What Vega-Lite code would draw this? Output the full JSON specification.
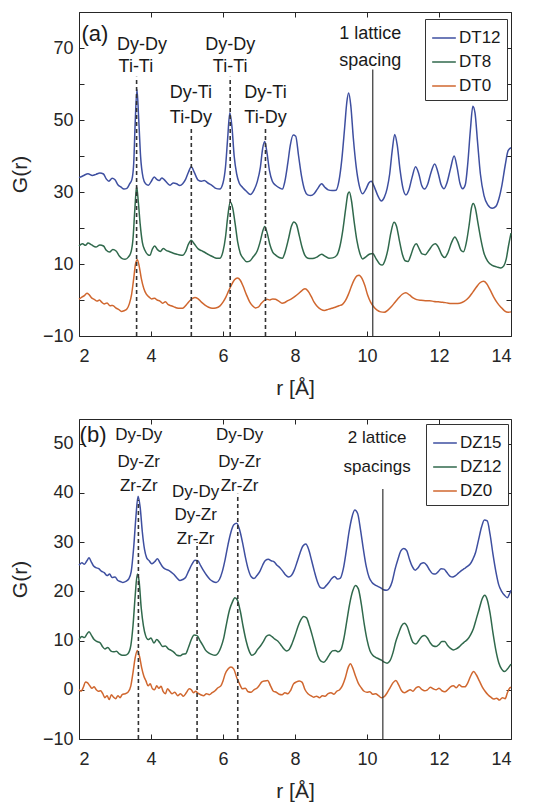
{
  "$schema": "https://vega.github.io/schema/vega-lite/v6.json",
  "padding": {"left": 8, "top": 11, "right": 5, "bottom": 5},
  "config": {
    "font": "Liberation Sans",
    "view": {"stroke": "#262626", "strokeWidth": 1},
    "axis": {"grid": false, "domain": false, "tickColor": "#262626", "tickSize": -5, "labelFontSize": 18, "labelColor": "#262626", "titleFontSize": 21, "titleFontWeight": "normal", "titleColor": "#262626", "labelFont": "Liberation Sans", "titleFont": "Liberation Sans", "labelPadding": 11, "titlePadding": 12},
    "axisX": {"labelPadding": 16, "titlePadding": 12},
    "legend": {"orient": "none", "title": null, "strokeColor": "#333333", "fillColor": "white", "padding": 6, "symbolType": "stroke", "symbolSize": 560, "symbolStrokeWidth": 1.5, "labelFontSize": 17, "labelFont": "Liberation Sans", "labelColor": "#1a1a1a", "rowPadding": 3, "labelOffset": 2}
  },
  "datasets": {
    "aLines": [
      {"s":"DT12","r":2.00,"g":34.0},{"s":"DT12","r":2.13,"g":34.6},{"s":"DT12","r":2.25,"g":35.1},{"s":"DT12","r":2.37,"g":34.6},{"s":"DT12","r":2.47,"g":34.9},{"s":"DT12","r":2.58,"g":35.3},{"s":"DT12","r":2.68,"g":35.0},{"s":"DT12","r":2.76,"g":33.6},{"s":"DT12","r":2.83,"g":33.0},{"s":"DT12","r":2.92,"g":33.8},{"s":"DT12","r":3.00,"g":33.4},{"s":"DT12","r":3.08,"g":32.0},{"s":"DT12","r":3.16,"g":31.4},{"s":"DT12","r":3.25,"g":30.8},{"s":"DT12","r":3.33,"g":31.0},{"s":"DT12","r":3.41,"g":32.3},{"s":"DT12","r":3.47,"g":33.5},{"s":"DT12","r":3.52,"g":38},{"s":"DT12","r":3.56,"g":49},{"s":"DT12","r":3.61,"g":58.5},{"s":"DT12","r":3.66,"g":50},{"s":"DT12","r":3.71,"g":40},{"s":"DT12","r":3.78,"g":34},{"s":"DT12","r":3.85,"g":32.3},{"s":"DT12","r":3.93,"g":31.9},{"s":"DT12","r":4.01,"g":33.0},{"s":"DT12","r":4.09,"g":34.2},{"s":"DT12","r":4.16,"g":33.5},{"s":"DT12","r":4.23,"g":33.2},{"s":"DT12","r":4.30,"g":33.9},{"s":"DT12","r":4.36,"g":33.5},{"s":"DT12","r":4.45,"g":32.5},{"s":"DT12","r":4.53,"g":31.9},{"s":"DT12","r":4.62,"g":32.5},{"s":"DT12","r":4.71,"g":32.3},{"s":"DT12","r":4.80,"g":31.8},{"s":"DT12","r":4.88,"g":32.3},{"s":"DT12","r":4.96,"g":33.5},{"s":"DT12","r":5.04,"g":35.5},{"s":"DT12","r":5.12,"g":37.0},{"s":"DT12","r":5.20,"g":35.5},{"s":"DT12","r":5.31,"g":33.3},{"s":"DT12","r":5.40,"g":33.0},{"s":"DT12","r":5.48,"g":33.2},{"s":"DT12","r":5.58,"g":32.5},{"s":"DT12","r":5.70,"g":31.8},{"s":"DT12","r":5.80,"g":31.0},{"s":"DT12","r":5.91,"g":30.8},{"s":"DT12","r":6.00,"g":32.5},{"s":"DT12","r":6.07,"g":37},{"s":"DT12","r":6.13,"g":45},{"s":"DT12","r":6.19,"g":52.0},{"s":"DT12","r":6.25,"g":48},{"s":"DT12","r":6.31,"g":40},{"s":"DT12","r":6.38,"g":35},{"s":"DT12","r":6.45,"g":32.5},{"s":"DT12","r":6.55,"g":31.2},{"s":"DT12","r":6.65,"g":30.2},{"s":"DT12","r":6.76,"g":29.3},{"s":"DT12","r":6.86,"g":30.5},{"s":"DT12","r":6.95,"g":32.8},{"s":"DT12","r":7.04,"g":37},{"s":"DT12","r":7.10,"g":42},{"s":"DT12","r":7.16,"g":44.0},{"s":"DT12","r":7.22,"g":41},{"s":"DT12","r":7.29,"g":36},{"s":"DT12","r":7.37,"g":33},{"s":"DT12","r":7.47,"g":31.8},{"s":"DT12","r":7.56,"g":31.2},{"s":"DT12","r":7.65,"g":30.8},{"s":"DT12","r":7.72,"g":33},{"s":"DT12","r":7.80,"g":38},{"s":"DT12","r":7.87,"g":43},{"s":"DT12","r":7.95,"g":45.8},{"s":"DT12","r":8.02,"g":45.5},{"s":"DT12","r":8.10,"g":40},{"s":"DT12","r":8.18,"g":34.5},{"s":"DT12","r":8.27,"g":30.5},{"s":"DT12","r":8.35,"g":29.2},{"s":"DT12","r":8.44,"g":29.0},{"s":"DT12","r":8.53,"g":29.5},{"s":"DT12","r":8.62,"g":30.8},{"s":"DT12","r":8.74,"g":32.3},{"s":"DT12","r":8.83,"g":31.3},{"s":"DT12","r":8.92,"g":30.6},{"s":"DT12","r":9.03,"g":30.4},{"s":"DT12","r":9.14,"g":30.5},{"s":"DT12","r":9.22,"g":33},{"s":"DT12","r":9.30,"g":39},{"s":"DT12","r":9.38,"g":48},{"s":"DT12","r":9.44,"g":55},{"s":"DT12","r":9.49,"g":57.5},{"s":"DT12","r":9.55,"g":54},{"s":"DT12","r":9.62,"g":45},{"s":"DT12","r":9.70,"g":37},{"s":"DT12","r":9.78,"g":32},{"s":"DT12","r":9.88,"g":29.5},{"s":"DT12","r":9.97,"g":30.8},{"s":"DT12","r":10.05,"g":32.5},{"s":"DT12","r":10.12,"g":33.0},{"s":"DT12","r":10.20,"g":31.5},{"s":"DT12","r":10.30,"g":29},{"s":"DT12","r":10.40,"g":27.5},{"s":"DT12","r":10.48,"g":28.5},{"s":"DT12","r":10.56,"g":31},{"s":"DT12","r":10.63,"g":35},{"s":"DT12","r":10.70,"g":41.5},{"s":"DT12","r":10.77,"g":46},{"s":"DT12","r":10.84,"g":43},{"s":"DT12","r":10.92,"g":36},{"s":"DT12","r":11.00,"g":31},{"s":"DT12","r":11.08,"g":29.2},{"s":"DT12","r":11.16,"g":30.5},{"s":"DT12","r":11.25,"g":34},{"s":"DT12","r":11.35,"g":37.0},{"s":"DT12","r":11.44,"g":35},{"s":"DT12","r":11.52,"g":31.8},{"s":"DT12","r":11.60,"g":30.8},{"s":"DT12","r":11.68,"g":32},{"s":"DT12","r":11.78,"g":35.5},{"s":"DT12","r":11.88,"g":37.8},{"s":"DT12","r":11.97,"g":35.5},{"s":"DT12","r":12.06,"g":32},{"s":"DT12","r":12.14,"g":30.9},{"s":"DT12","r":12.22,"g":32.5},{"s":"DT12","r":12.32,"g":36.5},{"s":"DT12","r":12.42,"g":40.0},{"s":"DT12","r":12.50,"g":37},{"s":"DT12","r":12.58,"g":32.5},{"s":"DT12","r":12.66,"g":30.9},{"s":"DT12","r":12.73,"g":32},{"s":"DT12","r":12.80,"g":38},{"s":"DT12","r":12.87,"g":47},{"s":"DT12","r":12.94,"g":53.8},{"s":"DT12","r":13.00,"g":52},{"s":"DT12","r":13.07,"g":44},{"s":"DT12","r":13.15,"g":35},{"s":"DT12","r":13.25,"g":29},{"s":"DT12","r":13.35,"g":26.5},{"s":"DT12","r":13.48,"g":25.5},{"s":"DT12","r":13.58,"g":26},{"s":"DT12","r":13.66,"g":28},{"s":"DT12","r":13.75,"g":32},{"s":"DT12","r":13.84,"g":37.5},{"s":"DT12","r":13.92,"g":41.5},{"s":"DT12","r":14.00,"g":42.3},
      {"s":"DT8","r":2.00,"g":15.0},{"s":"DT8","r":2.10,"g":15.6},{"s":"DT8","r":2.18,"g":15.2},{"s":"DT8","r":2.25,"g":15.8},{"s":"DT8","r":2.35,"g":15.3},{"s":"DT8","r":2.47,"g":14.7},{"s":"DT8","r":2.58,"g":15.3},{"s":"DT8","r":2.68,"g":15.0},{"s":"DT8","r":2.76,"g":13.8},{"s":"DT8","r":2.85,"g":13.3},{"s":"DT8","r":2.94,"g":14.0},{"s":"DT8","r":3.03,"g":13.6},{"s":"DT8","r":3.12,"g":12.2},{"s":"DT8","r":3.20,"g":11.5},{"s":"DT8","r":3.28,"g":11.3},{"s":"DT8","r":3.37,"g":11.9},{"s":"DT8","r":3.45,"g":13.5},{"s":"DT8","r":3.50,"g":17},{"s":"DT8","r":3.55,"g":25},{"s":"DT8","r":3.60,"g":31.5},{"s":"DT8","r":3.65,"g":27},{"s":"DT8","r":3.70,"g":21},{"s":"DT8","r":3.76,"g":16},{"s":"DT8","r":3.83,"g":13.8},{"s":"DT8","r":3.91,"g":12.6},{"s":"DT8","r":3.97,"g":12.4},{"s":"DT8","r":4.04,"g":14.2},{"s":"DT8","r":4.10,"g":15.0},{"s":"DT8","r":4.18,"g":14.0},{"s":"DT8","r":4.26,"g":13.5},{"s":"DT8","r":4.34,"g":14.3},{"s":"DT8","r":4.42,"g":13.8},{"s":"DT8","r":4.52,"g":13.4},{"s":"DT8","r":4.62,"g":13.0},{"s":"DT8","r":4.72,"g":12.7},{"s":"DT8","r":4.80,"g":12.5},{"s":"DT8","r":4.88,"g":12.4},{"s":"DT8","r":4.96,"g":13.4},{"s":"DT8","r":5.04,"g":15.5},{"s":"DT8","r":5.12,"g":16.6},{"s":"DT8","r":5.20,"g":15.6},{"s":"DT8","r":5.31,"g":14.2},{"s":"DT8","r":5.40,"g":13.7},{"s":"DT8","r":5.50,"g":13.2},{"s":"DT8","r":5.60,"g":12.6},{"s":"DT8","r":5.72,"g":12.0},{"s":"DT8","r":5.82,"g":11.6},{"s":"DT8","r":5.91,"g":11.6},{"s":"DT8","r":6.00,"g":13.5},{"s":"DT8","r":6.07,"g":17.5},{"s":"DT8","r":6.13,"g":23},{"s":"DT8","r":6.20,"g":27.2},{"s":"DT8","r":6.27,"g":25.5},{"s":"DT8","r":6.34,"g":21},{"s":"DT8","r":6.41,"g":16},{"s":"DT8","r":6.48,"g":13},{"s":"DT8","r":6.57,"g":11.5},{"s":"DT8","r":6.66,"g":10.6},{"s":"DT8","r":6.74,"g":10.8},{"s":"DT8","r":6.84,"g":12},{"s":"DT8","r":6.95,"g":13.6},{"s":"DT8","r":7.04,"g":16.5},{"s":"DT8","r":7.10,"g":19},{"s":"DT8","r":7.16,"g":20.4},{"s":"DT8","r":7.23,"g":18.5},{"s":"DT8","r":7.30,"g":15.5},{"s":"DT8","r":7.38,"g":13.3},{"s":"DT8","r":7.47,"g":12.4},{"s":"DT8","r":7.56,"g":11.8},{"s":"DT8","r":7.65,"g":11.6},{"s":"DT8","r":7.73,"g":13.5},{"s":"DT8","r":7.82,"g":17},{"s":"DT8","r":7.90,"g":20.5},{"s":"DT8","r":7.97,"g":21.7},{"s":"DT8","r":8.04,"g":21},{"s":"DT8","r":8.12,"g":17.8},{"s":"DT8","r":8.20,"g":14.5},{"s":"DT8","r":8.28,"g":12.3},{"s":"DT8","r":8.36,"g":11.6},{"s":"DT8","r":8.45,"g":11.5},{"s":"DT8","r":8.53,"g":11.6},{"s":"DT8","r":8.62,"g":12},{"s":"DT8","r":8.74,"g":12.7},{"s":"DT8","r":8.83,"g":12.2},{"s":"DT8","r":8.94,"g":11.6},{"s":"DT8","r":9.05,"g":11.7},{"s":"DT8","r":9.16,"g":12.4},{"s":"DT8","r":9.25,"g":15},{"s":"DT8","r":9.33,"g":19.5},{"s":"DT8","r":9.41,"g":25.5},{"s":"DT8","r":9.47,"g":29.5},{"s":"DT8","r":9.51,"g":30.0},{"s":"DT8","r":9.57,"g":27.5},{"s":"DT8","r":9.64,"g":22},{"s":"DT8","r":9.72,"g":16.5},{"s":"DT8","r":9.80,"g":13},{"s":"DT8","r":9.88,"g":11.4},{"s":"DT8","r":9.97,"g":12.0},{"s":"DT8","r":10.08,"g":12.8},{"s":"DT8","r":10.16,"g":12.9},{"s":"DT8","r":10.25,"g":11.5},{"s":"DT8","r":10.35,"g":10},{"s":"DT8","r":10.42,"g":9.7},{"s":"DT8","r":10.50,"g":11},{"s":"DT8","r":10.58,"g":14},{"s":"DT8","r":10.66,"g":18.5},{"s":"DT8","r":10.75,"g":21.6},{"s":"DT8","r":10.82,"g":20.5},{"s":"DT8","r":10.90,"g":16.5},{"s":"DT8","r":10.98,"g":12.8},{"s":"DT8","r":11.06,"g":10.9},{"s":"DT8","r":11.14,"g":10.7},{"s":"DT8","r":11.22,"g":12.5},{"s":"DT8","r":11.30,"g":14.8},{"s":"DT8","r":11.37,"g":15.6},{"s":"DT8","r":11.45,"g":14.2},{"s":"DT8","r":11.53,"g":12.8},{"s":"DT8","r":11.62,"g":12.6},{"s":"DT8","r":11.72,"g":13.8},{"s":"DT8","r":11.82,"g":15.2},{"s":"DT8","r":11.90,"g":15.6},{"s":"DT8","r":11.99,"g":14.5},{"s":"DT8","r":12.08,"g":12.5},{"s":"DT8","r":12.16,"g":11.8},{"s":"DT8","r":12.25,"g":13.2},{"s":"DT8","r":12.35,"g":16},{"s":"DT8","r":12.44,"g":17.5},{"s":"DT8","r":12.52,"g":16.2},{"s":"DT8","r":12.61,"g":13.8},{"s":"DT8","r":12.68,"g":13.4},{"s":"DT8","r":12.76,"g":16},{"s":"DT8","r":12.84,"g":21},{"s":"DT8","r":12.90,"g":25.5},{"s":"DT8","r":12.95,"g":26.8},{"s":"DT8","r":13.01,"g":25.5},{"s":"DT8","r":13.08,"g":21.5},{"s":"DT8","r":13.16,"g":17},{"s":"DT8","r":13.25,"g":13},{"s":"DT8","r":13.35,"g":10.8},{"s":"DT8","r":13.48,"g":9.6},{"s":"DT8","r":13.60,"g":9.2},{"s":"DT8","r":13.72,"g":8.9},{"s":"DT8","r":13.80,"g":9.5},{"s":"DT8","r":13.87,"g":11.5},{"s":"DT8","r":13.93,"g":15},{"s":"DT8","r":14.00,"g":18.6},
      {"s":"DT0","r":2.00,"g":0.2},{"s":"DT0","r":2.08,"g":0.8},{"s":"DT0","r":2.15,"g":1.2},{"s":"DT0","r":2.22,"g":1.9},{"s":"DT0","r":2.28,"g":1.5},{"s":"DT0","r":2.35,"g":0.6},{"s":"DT0","r":2.42,"g":0.2},{"s":"DT0","r":2.50,"g":-0.3},{"s":"DT0","r":2.57,"g":0.0},{"s":"DT0","r":2.63,"g":-0.6},{"s":"DT0","r":2.70,"g":-1.1},{"s":"DT0","r":2.78,"g":-0.8},{"s":"DT0","r":2.86,"g":-1.6},{"s":"DT0","r":2.94,"g":-1.5},{"s":"DT0","r":3.02,"g":-2.2},{"s":"DT0","r":3.10,"g":-2.6},{"s":"DT0","r":3.18,"g":-3.2},{"s":"DT0","r":3.25,"g":-3.0},{"s":"DT0","r":3.33,"g":-2.5},{"s":"DT0","r":3.40,"g":-1.0},{"s":"DT0","r":3.46,"g":1.5},{"s":"DT0","r":3.52,"g":6},{"s":"DT0","r":3.57,"g":10},{"s":"DT0","r":3.62,"g":11.2},{"s":"DT0","r":3.67,"g":9.5},{"s":"DT0","r":3.73,"g":6},{"s":"DT0","r":3.80,"g":3.2},{"s":"DT0","r":3.87,"g":1.6},{"s":"DT0","r":3.95,"g":0.8},{"s":"DT0","r":4.02,"g":0.3},{"s":"DT0","r":4.10,"g":0.5},{"s":"DT0","r":4.17,"g":0.0},{"s":"DT0","r":4.25,"g":-0.3},{"s":"DT0","r":4.32,"g":-0.9},{"s":"DT0","r":4.40,"g":-0.5},{"s":"DT0","r":4.48,"g":-1.3},{"s":"DT0","r":4.56,"g":-1.6},{"s":"DT0","r":4.64,"g":-1.9},{"s":"DT0","r":4.72,"g":-2.2},{"s":"DT0","r":4.80,"g":-2.3},{"s":"DT0","r":4.88,"g":-2.3},{"s":"DT0","r":4.96,"g":-1.6},{"s":"DT0","r":5.04,"g":-0.6},{"s":"DT0","r":5.12,"g":0.2},{"s":"DT0","r":5.22,"g":0.7},{"s":"DT0","r":5.30,"g":0.4},{"s":"DT0","r":5.40,"g":-0.6},{"s":"DT0","r":5.50,"g":-1.4},{"s":"DT0","r":5.60,"g":-2.0},{"s":"DT0","r":5.70,"g":-2.3},{"s":"DT0","r":5.80,"g":-2.2},{"s":"DT0","r":5.91,"g":-1.7},{"s":"DT0","r":6.00,"g":-0.6},{"s":"DT0","r":6.08,"g":0.8},{"s":"DT0","r":6.16,"g":2.6},{"s":"DT0","r":6.25,"g":4.5},{"s":"DT0","r":6.32,"g":5.6},{"s":"DT0","r":6.40,"g":6.1},{"s":"DT0","r":6.48,"g":5.5},{"s":"DT0","r":6.56,"g":3.8},{"s":"DT0","r":6.65,"g":1.5},{"s":"DT0","r":6.74,"g":-0.5},{"s":"DT0","r":6.82,"g":-1.6},{"s":"DT0","r":6.90,"g":-2.2},{"s":"DT0","r":6.98,"g":-2.0},{"s":"DT0","r":7.06,"g":-1.0},{"s":"DT0","r":7.14,"g":-0.2},{"s":"DT0","r":7.22,"g":0.2},{"s":"DT0","r":7.30,"g":0.0},{"s":"DT0","r":7.38,"g":0.3},{"s":"DT0","r":7.46,"g":0.2},{"s":"DT0","r":7.55,"g":-0.3},{"s":"DT0","r":7.64,"g":-0.9},{"s":"DT0","r":7.72,"g":-0.7},{"s":"DT0","r":7.80,"g":-0.2},{"s":"DT0","r":7.90,"g":0.3},{"s":"DT0","r":8.00,"g":1.0},{"s":"DT0","r":8.10,"g":1.8},{"s":"DT0","r":8.20,"g":2.7},{"s":"DT0","r":8.28,"g":3.1},{"s":"DT0","r":8.36,"g":2.5},{"s":"DT0","r":8.45,"g":1.0},{"s":"DT0","r":8.53,"g":-0.6},{"s":"DT0","r":8.62,"g":-1.8},{"s":"DT0","r":8.72,"g":-2.6},{"s":"DT0","r":8.82,"g":-2.9},{"s":"DT0","r":8.92,"g":-2.6},{"s":"DT0","r":9.02,"g":-2.3},{"s":"DT0","r":9.12,"g":-2.0},{"s":"DT0","r":9.22,"g":-1.6},{"s":"DT0","r":9.32,"g":-1.2},{"s":"DT0","r":9.40,"g":-0.2},{"s":"DT0","r":9.48,"g":1.5},{"s":"DT0","r":9.56,"g":3.6},{"s":"DT0","r":9.64,"g":5.5},{"s":"DT0","r":9.72,"g":6.7},{"s":"DT0","r":9.78,"g":6.9},{"s":"DT0","r":9.86,"g":6.0},{"s":"DT0","r":9.94,"g":4.0},{"s":"DT0","r":10.02,"g":1.3},{"s":"DT0","r":10.10,"g":-0.6},{"s":"DT0","r":10.18,"g":-1.8},{"s":"DT0","r":10.28,"g":-2.8},{"s":"DT0","r":10.38,"g":-3.3},{"s":"DT0","r":10.48,"g":-3.4},{"s":"DT0","r":10.58,"g":-2.8},{"s":"DT0","r":10.68,"g":-1.8},{"s":"DT0","r":10.78,"g":-0.6},{"s":"DT0","r":10.88,"g":0.6},{"s":"DT0","r":10.98,"g":1.6},{"s":"DT0","r":11.08,"g":2.0},{"s":"DT0","r":11.18,"g":1.4},{"s":"DT0","r":11.28,"g":0.6},{"s":"DT0","r":11.38,"g":0.1},{"s":"DT0","r":11.50,"g":-0.1},{"s":"DT0","r":11.62,"g":-0.2},{"s":"DT0","r":11.74,"g":-0.2},{"s":"DT0","r":11.86,"g":-0.4},{"s":"DT0","r":11.98,"g":-0.5},{"s":"DT0","r":12.10,"g":-0.6},{"s":"DT0","r":12.22,"g":-0.8},{"s":"DT0","r":12.34,"g":-1.0},{"s":"DT0","r":12.46,"g":-1.0},{"s":"DT0","r":12.58,"g":-0.9},{"s":"DT0","r":12.70,"g":-0.4},{"s":"DT0","r":12.82,"g":0.6},{"s":"DT0","r":12.94,"g":2.2},{"s":"DT0","r":13.04,"g":3.6},{"s":"DT0","r":13.14,"g":4.8},{"s":"DT0","r":13.24,"g":5.2},{"s":"DT0","r":13.32,"g":4.6},{"s":"DT0","r":13.42,"g":2.8},{"s":"DT0","r":13.52,"g":0.8},{"s":"DT0","r":13.62,"g":-0.8},{"s":"DT0","r":13.72,"g":-2.0},{"s":"DT0","r":13.82,"g":-3.0},{"s":"DT0","r":13.92,"g":-3.4},{"s":"DT0","r":14.00,"g":-3.3}
    ],
    "bLines": [
      {"s":"DZ15","r":2.00,"g":25.3},{"s":"DZ15","r":2.08,"g":25.8},{"s":"DZ15","r":2.15,"g":25.5},{"s":"DZ15","r":2.22,"g":26.2},{"s":"DZ15","r":2.28,"g":26.8},{"s":"DZ15","r":2.34,"g":26.0},{"s":"DZ15","r":2.40,"g":25.2},{"s":"DZ15","r":2.47,"g":24.8},{"s":"DZ15","r":2.55,"g":24.6},{"s":"DZ15","r":2.62,"g":24.1},{"s":"DZ15","r":2.70,"g":23.8},{"s":"DZ15","r":2.78,"g":23.2},{"s":"DZ15","r":2.85,"g":23.5},{"s":"DZ15","r":2.92,"g":22.8},{"s":"DZ15","r":3.00,"g":22.9},{"s":"DZ15","r":3.08,"g":22.2},{"s":"DZ15","r":3.15,"g":22.0},{"s":"DZ15","r":3.22,"g":21.8},{"s":"DZ15","r":3.30,"g":22.0},{"s":"DZ15","r":3.38,"g":22.5},{"s":"DZ15","r":3.45,"g":24},{"s":"DZ15","r":3.52,"g":29},{"s":"DZ15","r":3.58,"g":35},{"s":"DZ15","r":3.64,"g":39.3},{"s":"DZ15","r":3.70,"g":37},{"s":"DZ15","r":3.76,"g":32},{"s":"DZ15","r":3.82,"g":28.5},{"s":"DZ15","r":3.88,"g":26.8},{"s":"DZ15","r":3.95,"g":26.2},{"s":"DZ15","r":4.02,"g":25.6},{"s":"DZ15","r":4.10,"g":26.0},{"s":"DZ15","r":4.18,"g":26.6},{"s":"DZ15","r":4.25,"g":25.8},{"s":"DZ15","r":4.32,"g":25.0},{"s":"DZ15","r":4.40,"g":24.5},{"s":"DZ15","r":4.48,"g":24.3},{"s":"DZ15","r":4.56,"g":23.9},{"s":"DZ15","r":4.64,"g":23.4},{"s":"DZ15","r":4.72,"g":22.7},{"s":"DZ15","r":4.80,"g":22.2},{"s":"DZ15","r":4.88,"g":22.4},{"s":"DZ15","r":4.96,"g":22.8},{"s":"DZ15","r":5.05,"g":24.2},{"s":"DZ15","r":5.14,"g":25.5},{"s":"DZ15","r":5.22,"g":26.3},{"s":"DZ15","r":5.30,"g":26.2},{"s":"DZ15","r":5.38,"g":25.2},{"s":"DZ15","r":5.46,"g":24.2},{"s":"DZ15","r":5.55,"g":23.2},{"s":"DZ15","r":5.64,"g":22.4},{"s":"DZ15","r":5.72,"g":22.0},{"s":"DZ15","r":5.81,"g":21.8},{"s":"DZ15","r":5.90,"g":22.4},{"s":"DZ15","r":5.98,"g":24},{"s":"DZ15","r":6.06,"g":26.5},{"s":"DZ15","r":6.14,"g":29.5},{"s":"DZ15","r":6.22,"g":32},{"s":"DZ15","r":6.30,"g":33.5},{"s":"DZ15","r":6.38,"g":33.8},{"s":"DZ15","r":6.46,"g":32.5},{"s":"DZ15","r":6.54,"g":30},{"s":"DZ15","r":6.62,"g":27},{"s":"DZ15","r":6.70,"g":24.5},{"s":"DZ15","r":6.78,"g":23.0},{"s":"DZ15","r":6.86,"g":22.6},{"s":"DZ15","r":6.94,"g":23.2},{"s":"DZ15","r":7.02,"g":24},{"s":"DZ15","r":7.10,"g":25.3},{"s":"DZ15","r":7.18,"g":26.3},{"s":"DZ15","r":7.26,"g":26.5},{"s":"DZ15","r":7.34,"g":26.2},{"s":"DZ15","r":7.42,"g":26.0},{"s":"DZ15","r":7.50,"g":25.3},{"s":"DZ15","r":7.58,"g":24.8},{"s":"DZ15","r":7.66,"g":24.1},{"s":"DZ15","r":7.74,"g":23.3},{"s":"DZ15","r":7.82,"g":22.9},{"s":"DZ15","r":7.90,"g":23.2},{"s":"DZ15","r":7.98,"g":24.3},{"s":"DZ15","r":8.06,"g":26},{"s":"DZ15","r":8.14,"g":27.8},{"s":"DZ15","r":8.22,"g":29.2},{"s":"DZ15","r":8.30,"g":29.6},{"s":"DZ15","r":8.38,"g":28.5},{"s":"DZ15","r":8.46,"g":26.3},{"s":"DZ15","r":8.54,"g":24},{"s":"DZ15","r":8.62,"g":22.0},{"s":"DZ15","r":8.70,"g":20.8},{"s":"DZ15","r":8.78,"g":20.6},{"s":"DZ15","r":8.86,"g":21.1},{"s":"DZ15","r":8.94,"g":21.8},{"s":"DZ15","r":9.02,"g":22.6},{"s":"DZ15","r":9.10,"g":23.0},{"s":"DZ15","r":9.18,"g":22.5},{"s":"DZ15","r":9.26,"g":22.7},{"s":"DZ15","r":9.34,"g":24.5},{"s":"DZ15","r":9.42,"g":28},{"s":"DZ15","r":9.50,"g":32},{"s":"DZ15","r":9.58,"g":35},{"s":"DZ15","r":9.66,"g":36.5},{"s":"DZ15","r":9.74,"g":35.8},{"s":"DZ15","r":9.82,"g":32.5},{"s":"DZ15","r":9.90,"g":28.5},{"s":"DZ15","r":9.98,"g":25},{"s":"DZ15","r":10.06,"g":22.8},{"s":"DZ15","r":10.14,"g":21.8},{"s":"DZ15","r":10.22,"g":21.3},{"s":"DZ15","r":10.30,"g":21.0},{"s":"DZ15","r":10.38,"g":20.7},{"s":"DZ15","r":10.46,"g":20.3},{"s":"DZ15","r":10.54,"g":20.2},{"s":"DZ15","r":10.62,"g":20.6},{"s":"DZ15","r":10.70,"g":22},{"s":"DZ15","r":10.78,"g":24.5},{"s":"DZ15","r":10.86,"g":26.5},{"s":"DZ15","r":10.94,"g":28.2},{"s":"DZ15","r":11.02,"g":28.7},{"s":"DZ15","r":11.10,"g":28.3},{"s":"DZ15","r":11.18,"g":26.5},{"s":"DZ15","r":11.26,"g":25.0},{"s":"DZ15","r":11.34,"g":24.3},{"s":"DZ15","r":11.42,"g":24.8},{"s":"DZ15","r":11.50,"g":25.6},{"s":"DZ15","r":11.58,"g":25.8},{"s":"DZ15","r":11.66,"g":25.3},{"s":"DZ15","r":11.74,"g":24.3},{"s":"DZ15","r":11.82,"g":23.6},{"s":"DZ15","r":11.90,"g":23.5},{"s":"DZ15","r":11.98,"g":24.0},{"s":"DZ15","r":12.06,"g":24.6},{"s":"DZ15","r":12.14,"g":24.5},{"s":"DZ15","r":12.22,"g":23.8},{"s":"DZ15","r":12.30,"g":23.1},{"s":"DZ15","r":12.38,"g":22.9},{"s":"DZ15","r":12.46,"g":23.2},{"s":"DZ15","r":12.54,"g":23.7},{"s":"DZ15","r":12.62,"g":24.2},{"s":"DZ15","r":12.70,"g":24.6},{"s":"DZ15","r":12.78,"g":25.0},{"s":"DZ15","r":12.86,"g":25.5},{"s":"DZ15","r":12.94,"g":26.5},{"s":"DZ15","r":13.02,"g":28},{"s":"DZ15","r":13.10,"g":30.5},{"s":"DZ15","r":13.18,"g":33},{"s":"DZ15","r":13.26,"g":34.5},{"s":"DZ15","r":13.34,"g":34.3},{"s":"DZ15","r":13.42,"g":31.5},{"s":"DZ15","r":13.50,"g":27.5},{"s":"DZ15","r":13.58,"g":24},{"s":"DZ15","r":13.66,"g":21.3},{"s":"DZ15","r":13.74,"g":20.0},{"s":"DZ15","r":13.82,"g":19.2},{"s":"DZ15","r":13.90,"g":18.7},{"s":"DZ15","r":13.96,"g":19.5},{"s":"DZ15","r":14.00,"g":20.2},
      {"s":"DZ12","r":2.00,"g":10.2},{"s":"DZ12","r":2.08,"g":10.8},{"s":"DZ12","r":2.15,"g":10.6},{"s":"DZ12","r":2.22,"g":11.3},{"s":"DZ12","r":2.28,"g":11.8},{"s":"DZ12","r":2.35,"g":11.0},{"s":"DZ12","r":2.42,"g":10.2},{"s":"DZ12","r":2.50,"g":9.8},{"s":"DZ12","r":2.58,"g":9.6},{"s":"DZ12","r":2.65,"g":8.8},{"s":"DZ12","r":2.72,"g":8.3},{"s":"DZ12","r":2.80,"g":8.6},{"s":"DZ12","r":2.88,"g":7.9},{"s":"DZ12","r":2.96,"g":7.7},{"s":"DZ12","r":3.04,"g":7.8},{"s":"DZ12","r":3.12,"g":7.3},{"s":"DZ12","r":3.20,"g":7.0},{"s":"DZ12","r":3.28,"g":7.0},{"s":"DZ12","r":3.36,"g":7.3},{"s":"DZ12","r":3.44,"g":9},{"s":"DZ12","r":3.50,"g":13},{"s":"DZ12","r":3.56,"g":19},{"s":"DZ12","r":3.62,"g":23.5},{"s":"DZ12","r":3.67,"g":22},{"s":"DZ12","r":3.73,"g":16.5},{"s":"DZ12","r":3.79,"g":13},{"s":"DZ12","r":3.85,"g":11},{"s":"DZ12","r":3.92,"g":10.2},{"s":"DZ12","r":4.00,"g":10.5},{"s":"DZ12","r":4.08,"g":9.5},{"s":"DZ12","r":4.16,"g":10.2},{"s":"DZ12","r":4.24,"g":9.6},{"s":"DZ12","r":4.32,"g":8.8},{"s":"DZ12","r":4.40,"g":8.9},{"s":"DZ12","r":4.48,"g":8.3},{"s":"DZ12","r":4.56,"g":8.0},{"s":"DZ12","r":4.64,"g":7.6},{"s":"DZ12","r":4.72,"g":7.0},{"s":"DZ12","r":4.80,"g":6.9},{"s":"DZ12","r":4.88,"g":7.2},{"s":"DZ12","r":4.96,"g":7.3},{"s":"DZ12","r":5.04,"g":8.6},{"s":"DZ12","r":5.12,"g":10.2},{"s":"DZ12","r":5.20,"g":11.1},{"s":"DZ12","r":5.28,"g":11.0},{"s":"DZ12","r":5.36,"g":10.0},{"s":"DZ12","r":5.44,"g":9.0},{"s":"DZ12","r":5.52,"g":8.0},{"s":"DZ12","r":5.60,"g":7.5},{"s":"DZ12","r":5.68,"g":7.2},{"s":"DZ12","r":5.78,"g":7.0},{"s":"DZ12","r":5.86,"g":7.4},{"s":"DZ12","r":5.94,"g":8.6},{"s":"DZ12","r":6.02,"g":10.5},{"s":"DZ12","r":6.10,"g":13.5},{"s":"DZ12","r":6.18,"g":16.2},{"s":"DZ12","r":6.26,"g":17.8},{"s":"DZ12","r":6.33,"g":18.7},{"s":"DZ12","r":6.40,"g":18.2},{"s":"DZ12","r":6.48,"g":16},{"s":"DZ12","r":6.56,"g":12.8},{"s":"DZ12","r":6.64,"g":10},{"s":"DZ12","r":6.72,"g":8.0},{"s":"DZ12","r":6.80,"g":7.0},{"s":"DZ12","r":6.88,"g":7.3},{"s":"DZ12","r":6.96,"g":8.2},{"s":"DZ12","r":7.04,"g":8.9},{"s":"DZ12","r":7.12,"g":9.8},{"s":"DZ12","r":7.20,"g":10.8},{"s":"DZ12","r":7.28,"g":11.1},{"s":"DZ12","r":7.36,"g":10.8},{"s":"DZ12","r":7.44,"g":10.3},{"s":"DZ12","r":7.52,"g":9.9},{"s":"DZ12","r":7.60,"g":9.2},{"s":"DZ12","r":7.68,"g":8.4},{"s":"DZ12","r":7.76,"g":7.9},{"s":"DZ12","r":7.84,"g":8.2},{"s":"DZ12","r":7.92,"g":9.4},{"s":"DZ12","r":8.00,"g":11},{"s":"DZ12","r":8.08,"g":12.8},{"s":"DZ12","r":8.16,"g":14.2},{"s":"DZ12","r":8.24,"g":14.9},{"s":"DZ12","r":8.32,"g":14.6},{"s":"DZ12","r":8.40,"g":13},{"s":"DZ12","r":8.48,"g":11},{"s":"DZ12","r":8.56,"g":8.8},{"s":"DZ12","r":8.64,"g":6.8},{"s":"DZ12","r":8.72,"g":5.8},{"s":"DZ12","r":8.80,"g":5.6},{"s":"DZ12","r":8.88,"g":6.2},{"s":"DZ12","r":8.96,"g":7.2},{"s":"DZ12","r":9.04,"g":7.9},{"s":"DZ12","r":9.12,"g":8.0},{"s":"DZ12","r":9.20,"g":7.7},{"s":"DZ12","r":9.28,"g":8.2},{"s":"DZ12","r":9.36,"g":10.5},{"s":"DZ12","r":9.44,"g":14},{"s":"DZ12","r":9.52,"g":17.5},{"s":"DZ12","r":9.60,"g":20},{"s":"DZ12","r":9.68,"g":21.2},{"s":"DZ12","r":9.76,"g":20.5},{"s":"DZ12","r":9.84,"g":17.5},{"s":"DZ12","r":9.92,"g":13.5},{"s":"DZ12","r":10.00,"g":10.2},{"s":"DZ12","r":10.08,"g":8.0},{"s":"DZ12","r":10.16,"g":7.0},{"s":"DZ12","r":10.24,"g":6.6},{"s":"DZ12","r":10.32,"g":6.3},{"s":"DZ12","r":10.40,"g":6.0},{"s":"DZ12","r":10.48,"g":5.6},{"s":"DZ12","r":10.56,"g":5.4},{"s":"DZ12","r":10.64,"g":5.9},{"s":"DZ12","r":10.72,"g":7.5},{"s":"DZ12","r":10.80,"g":9.8},{"s":"DZ12","r":10.88,"g":11.5},{"s":"DZ12","r":10.96,"g":13},{"s":"DZ12","r":11.04,"g":13.5},{"s":"DZ12","r":11.12,"g":12.8},{"s":"DZ12","r":11.20,"g":11.0},{"s":"DZ12","r":11.28,"g":9.6},{"s":"DZ12","r":11.36,"g":9.3},{"s":"DZ12","r":11.44,"g":10.0},{"s":"DZ12","r":11.52,"g":10.8},{"s":"DZ12","r":11.60,"g":11.0},{"s":"DZ12","r":11.68,"g":10.5},{"s":"DZ12","r":11.76,"g":9.5},{"s":"DZ12","r":11.84,"g":8.9},{"s":"DZ12","r":11.92,"g":8.8},{"s":"DZ12","r":12.00,"g":9.2},{"s":"DZ12","r":12.08,"g":9.8},{"s":"DZ12","r":12.16,"g":9.8},{"s":"DZ12","r":12.24,"g":9.0},{"s":"DZ12","r":12.32,"g":8.4},{"s":"DZ12","r":12.40,"g":8.1},{"s":"DZ12","r":12.48,"g":8.3},{"s":"DZ12","r":12.56,"g":8.7},{"s":"DZ12","r":12.64,"g":9.3},{"s":"DZ12","r":12.72,"g":9.8},{"s":"DZ12","r":12.80,"g":10.3},{"s":"DZ12","r":12.88,"g":11.2},{"s":"DZ12","r":12.96,"g":12.5},{"s":"DZ12","r":13.04,"g":14.5},{"s":"DZ12","r":13.12,"g":16.5},{"s":"DZ12","r":13.20,"g":18.5},{"s":"DZ12","r":13.27,"g":19.2},{"s":"DZ12","r":13.34,"g":18.3},{"s":"DZ12","r":13.42,"g":15.5},{"s":"DZ12","r":13.50,"g":11.5},{"s":"DZ12","r":13.58,"g":8.0},{"s":"DZ12","r":13.66,"g":5.5},{"s":"DZ12","r":13.74,"g":4.2},{"s":"DZ12","r":13.82,"g":3.7},{"s":"DZ12","r":13.90,"g":4.2},{"s":"DZ12","r":13.96,"g":4.8},{"s":"DZ12","r":14.00,"g":5.2},
      {"s":"DZ0","r":2.00,"g":0.0},{"s":"DZ0","r":2.06,"g":-0.3},{"s":"DZ0","r":2.12,"g":0.5},{"s":"DZ0","r":2.18,"g":1.6},{"s":"DZ0","r":2.24,"g":1.4},{"s":"DZ0","r":2.30,"g":0.8},{"s":"DZ0","r":2.36,"g":0.3},{"s":"DZ0","r":2.42,"g":0.6},{"s":"DZ0","r":2.48,"g":0.0},{"s":"DZ0","r":2.54,"g":-0.3},{"s":"DZ0","r":2.60,"g":-0.2},{"s":"DZ0","r":2.66,"g":-0.8},{"s":"DZ0","r":2.72,"g":-1.6},{"s":"DZ0","r":2.78,"g":-1.2},{"s":"DZ0","r":2.84,"g":-2.0},{"s":"DZ0","r":2.90,"g":-1.0},{"s":"DZ0","r":2.96,"g":-1.5},{"s":"DZ0","r":3.02,"g":-1.8},{"s":"DZ0","r":3.08,"g":-1.2},{"s":"DZ0","r":3.14,"g":-1.6},{"s":"DZ0","r":3.20,"g":-1.0},{"s":"DZ0","r":3.28,"g":-0.8},{"s":"DZ0","r":3.36,"g":-0.5},{"s":"DZ0","r":3.44,"g":0.8},{"s":"DZ0","r":3.50,"g":3.5},{"s":"DZ0","r":3.56,"g":6.5},{"s":"DZ0","r":3.62,"g":8.0},{"s":"DZ0","r":3.68,"g":6.8},{"s":"DZ0","r":3.74,"g":4.5},{"s":"DZ0","r":3.80,"g":2.8},{"s":"DZ0","r":3.86,"g":1.8},{"s":"DZ0","r":3.92,"g":0.8},{"s":"DZ0","r":3.98,"g":1.2},{"s":"DZ0","r":4.04,"g":0.2},{"s":"DZ0","r":4.10,"g":0.0},{"s":"DZ0","r":4.16,"g":0.8},{"s":"DZ0","r":4.22,"g":0.3},{"s":"DZ0","r":4.28,"g":0.7},{"s":"DZ0","r":4.34,"g":-0.4},{"s":"DZ0","r":4.40,"g":-0.8},{"s":"DZ0","r":4.46,"g":0.2},{"s":"DZ0","r":4.52,"g":-0.3},{"s":"DZ0","r":4.58,"g":-0.8},{"s":"DZ0","r":4.66,"g":-0.5},{"s":"DZ0","r":4.74,"g":-1.2},{"s":"DZ0","r":4.82,"g":-0.8},{"s":"DZ0","r":4.90,"g":-1.3},{"s":"DZ0","r":4.98,"g":-0.6},{"s":"DZ0","r":5.06,"g":0.2},{"s":"DZ0","r":5.12,"g":0.0},{"s":"DZ0","r":5.18,"g":-0.6},{"s":"DZ0","r":5.24,"g":-0.3},{"s":"DZ0","r":5.30,"g":-0.7},{"s":"DZ0","r":5.38,"g":-1.0},{"s":"DZ0","r":5.46,"g":-1.2},{"s":"DZ0","r":5.54,"g":-0.8},{"s":"DZ0","r":5.62,"g":-1.0},{"s":"DZ0","r":5.70,"g":-0.6},{"s":"DZ0","r":5.78,"g":-0.2},{"s":"DZ0","r":5.86,"g":0.4},{"s":"DZ0","r":5.94,"g":0.8},{"s":"DZ0","r":6.00,"g":1.8},{"s":"DZ0","r":6.06,"g":3.2},{"s":"DZ0","r":6.14,"g":4.2},{"s":"DZ0","r":6.22,"g":4.6},{"s":"DZ0","r":6.30,"g":4.2},{"s":"DZ0","r":6.38,"g":2.5},{"s":"DZ0","r":6.46,"g":1.2},{"s":"DZ0","r":6.54,"g":0.2},{"s":"DZ0","r":6.62,"g":0.3},{"s":"DZ0","r":6.70,"g":-0.4},{"s":"DZ0","r":6.78,"g":-0.5},{"s":"DZ0","r":6.86,"g":0.0},{"s":"DZ0","r":6.94,"g":0.3},{"s":"DZ0","r":7.00,"g":0.8},{"s":"DZ0","r":7.08,"g":1.6},{"s":"DZ0","r":7.16,"g":1.8},{"s":"DZ0","r":7.24,"g":1.9},{"s":"DZ0","r":7.32,"g":0.8},{"s":"DZ0","r":7.40,"g":-0.3},{"s":"DZ0","r":7.48,"g":-0.5},{"s":"DZ0","r":7.56,"g":-0.9},{"s":"DZ0","r":7.64,"g":-1.0},{"s":"DZ0","r":7.72,"g":-0.6},{"s":"DZ0","r":7.80,"g":-0.8},{"s":"DZ0","r":7.88,"g":-0.1},{"s":"DZ0","r":7.96,"g":1.2},{"s":"DZ0","r":8.04,"g":1.6},{"s":"DZ0","r":8.12,"g":1.8},{"s":"DZ0","r":8.20,"g":1.5},{"s":"DZ0","r":8.28,"g":0.0},{"s":"DZ0","r":8.36,"g":-0.8},{"s":"DZ0","r":8.44,"g":-1.2},{"s":"DZ0","r":8.52,"g":-1.5},{"s":"DZ0","r":8.60,"g":-1.3},{"s":"DZ0","r":8.68,"g":-1.6},{"s":"DZ0","r":8.76,"g":-1.2},{"s":"DZ0","r":8.84,"g":-1.3},{"s":"DZ0","r":8.92,"g":-0.8},{"s":"DZ0","r":9.00,"g":-0.6},{"s":"DZ0","r":9.08,"g":-0.9},{"s":"DZ0","r":9.16,"g":-0.3},{"s":"DZ0","r":9.24,"g":0.0},{"s":"DZ0","r":9.32,"g":0.9},{"s":"DZ0","r":9.40,"g":2.5},{"s":"DZ0","r":9.48,"g":4.6},{"s":"DZ0","r":9.54,"g":5.3},{"s":"DZ0","r":9.60,"g":4.5},{"s":"DZ0","r":9.68,"g":2.8},{"s":"DZ0","r":9.76,"g":1.3},{"s":"DZ0","r":9.84,"g":0.4},{"s":"DZ0","r":9.92,"g":-0.3},{"s":"DZ0","r":10.00,"g":-0.5},{"s":"DZ0","r":10.08,"g":-0.4},{"s":"DZ0","r":10.16,"g":-0.9},{"s":"DZ0","r":10.24,"g":-0.8},{"s":"DZ0","r":10.32,"g":-1.2},{"s":"DZ0","r":10.40,"g":-1.6},{"s":"DZ0","r":10.48,"g":-1.4},{"s":"DZ0","r":10.56,"g":-0.6},{"s":"DZ0","r":10.64,"g":0.4},{"s":"DZ0","r":10.72,"g":1.4},{"s":"DZ0","r":10.80,"g":1.9},{"s":"DZ0","r":10.88,"g":1.0},{"s":"DZ0","r":10.96,"g":-0.2},{"s":"DZ0","r":11.04,"g":-0.6},{"s":"DZ0","r":11.12,"g":-0.3},{"s":"DZ0","r":11.20,"g":0.0},{"s":"DZ0","r":11.28,"g":-0.3},{"s":"DZ0","r":11.36,"g":0.4},{"s":"DZ0","r":11.44,"g":0.6},{"s":"DZ0","r":11.52,"g":0.1},{"s":"DZ0","r":11.60,"g":-0.2},{"s":"DZ0","r":11.68,"g":0.0},{"s":"DZ0","r":11.76,"g":0.5},{"s":"DZ0","r":11.84,"g":0.2},{"s":"DZ0","r":11.92,"g":0.0},{"s":"DZ0","r":12.00,"g":0.3},{"s":"DZ0","r":12.08,"g":-0.2},{"s":"DZ0","r":12.16,"g":-0.4},{"s":"DZ0","r":12.24,"g":0.0},{"s":"DZ0","r":12.32,"g":0.6},{"s":"DZ0","r":12.40,"g":0.8},{"s":"DZ0","r":12.48,"g":0.4},{"s":"DZ0","r":12.56,"g":1.0},{"s":"DZ0","r":12.64,"g":0.6},{"s":"DZ0","r":12.72,"g":0.6},{"s":"DZ0","r":12.80,"g":1.4},{"s":"DZ0","r":12.88,"g":2.8},{"s":"DZ0","r":12.96,"g":3.7},{"s":"DZ0","r":13.04,"g":3.0},{"s":"DZ0","r":13.12,"g":1.8},{"s":"DZ0","r":13.20,"g":0.6},{"s":"DZ0","r":13.28,"g":-0.3},{"s":"DZ0","r":13.36,"g":-1.0},{"s":"DZ0","r":13.44,"g":-1.5},{"s":"DZ0","r":13.52,"g":-1.9},{"s":"DZ0","r":13.60,"g":-1.7},{"s":"DZ0","r":13.68,"g":-2.1},{"s":"DZ0","r":13.76,"g":-1.6},{"s":"DZ0","r":13.84,"g":-1.8},{"s":"DZ0","r":13.90,"g":-0.6},{"s":"DZ0","r":13.96,"g":0.3},{"s":"DZ0","r":14.00,"g":0.5}
    ],
    "aDash": [{"r":3.6,"lo":-10,"top":62},{"r":5.12,"lo":-10,"top":48},{"r":6.2,"lo":-10,"top":62},{"r":7.18,"lo":-10,"top":48}],
    "aSolid": [{"r":10.16,"lo":-10,"top":64}],
    "aText": [
      {"r":3.75,"g":70.8,"t":"Dy-Dy"},{"r":3.58,"g":64.6,"t":"Ti-Ti"},
      {"r":5.11,"g":57.5,"t":"Dy-Ti"},{"r":5.11,"g":50.6,"t":"Ti-Dy"},
      {"r":6.2,"g":70.8,"t":"Dy-Dy"},{"r":6.2,"g":64.6,"t":"Ti-Ti"},
      {"r":7.18,"g":57.5,"t":"Dy-Ti"},{"r":7.18,"g":50.6,"t":"Ti-Dy"},
      {"r":10.09,"g":73.9,"t":"1 lattice"},{"r":10.09,"g":66.4,"t":"spacing"}
    ],
    "aLabel": [{"r":2.44,"g":73.9,"t":"(a)"}],
    "bDash": [{"r":3.65,"lo":-10,"top":38.6},{"r":5.28,"lo":-10,"top":30},{"r":6.41,"lo":-10,"top":39.8}],
    "bSolid": [{"r":10.44,"lo":-10,"top":40.8}],
    "bText": [
      {"r":3.66,"g":51.8,"t":"Dy-Dy"},{"r":3.66,"g":46.3,"t":"Dy-Zr"},{"r":3.66,"g":41.3,"t":"Zr-Zr"},
      {"r":5.24,"g":40.2,"t":"Dy-Dy"},{"r":5.24,"g":35.6,"t":"Dy-Zr"},{"r":5.24,"g":30.7,"t":"Zr-Zr"},
      {"r":6.46,"g":51.8,"t":"Dy-Dy"},{"r":6.46,"g":46.3,"t":"Dy-Zr"},{"r":6.46,"g":41.3,"t":"Zr-Zr"},
      {"r":10.28,"g":51.1,"t":"2 lattice"},{"r":10.28,"g":45.3,"t":"spacings"}
    ],
    "bLabel": [{"r":2.39,"g":51.8,"t":"(b)"}]
  },
  "spacing": 19,
  "resolve": {"scale": {"color": "independent"}, "legend": {"color": "independent"}},
  "vconcat": [
    {
      "width": 432, "height": 324,
      "resolve": {"axis": {"x": "independent", "y": "independent"}},
      "layer": [
        {
          "data": {"name": "aLines"},
          "mark": {"type": "line", "strokeWidth": 1.5, "interpolate": "monotone"},
          "encoding": {
            "x": {"field": "r", "type": "quantitative", "scale": {"domain": [2, 14], "nice": false}, "axis": {"values": [2,4,6,8,10,12,14], "title": "r [Å]"}},
            "y": {"field": "g", "type": "quantitative", "scale": {"domain": [-10, 80], "nice": false, "zero": false}, "axis": {"values": [-10,0,10,20,30,40,50,60,70,80], "labelExpr": "(datum.value % 20 == 10 || datum.value == -10) ? datum.label : ''", "title": "G(r)"}},
            "color": {"field": "s", "type": "nominal", "scale": {"domain": ["DT12","DT8","DT0"], "range": ["#3e4fa0","#30694c","#d0672f"]}, "legend": {"legendX": 346, "legendY": 7}}
          }
        },
        {
          "data": {"name": "aDash"},
          "mark": {"type": "rule", "strokeDash": [4, 3], "strokeWidth": 1.6, "color": "#333333"},
          "encoding": {
            "x": {"field": "r", "type": "quantitative", "axis": {"orient": "top", "values": [2,4,6,8,10,12,14], "labels": false, "title": null}},
            "y": {"field": "lo", "type": "quantitative", "axis": {"orient": "right", "values": [-10,0,10,20,30,40,50,60,70,80], "labels": false, "title": null}},
            "y2": {"field": "top"}
          }
        },
        {
          "data": {"name": "aSolid"},
          "mark": {"type": "rule", "strokeWidth": 1.2, "color": "#333333"},
          "encoding": {
            "x": {"field": "r", "type": "quantitative", "axis": null},
            "y": {"field": "lo", "type": "quantitative", "axis": null},
            "y2": {"field": "top"}
          }
        },
        {
          "data": {"name": "aText"},
          "mark": {"type": "text", "fontSize": 18, "color": "#1a1a1a", "font": "Liberation Sans"},
          "encoding": {
            "x": {"field": "r", "type": "quantitative", "axis": null},
            "y": {"field": "g", "type": "quantitative", "axis": null},
            "text": {"field": "t"}
          }
        },
        {
          "data": {"name": "aLabel"},
          "mark": {"type": "text", "fontSize": 22, "color": "#1a1a1a", "font": "Liberation Sans"},
          "encoding": {
            "x": {"field": "r", "type": "quantitative", "axis": null},
            "y": {"field": "g", "type": "quantitative", "axis": null},
            "text": {"field": "t"}
          }
        }
      ]
    },
    {
      "width": 432, "height": 320,
      "resolve": {"axis": {"x": "independent", "y": "independent"}},
      "layer": [
        {
          "data": {"name": "bLines"},
          "mark": {"type": "line", "strokeWidth": 1.5, "interpolate": "monotone"},
          "encoding": {
            "x": {"field": "r", "type": "quantitative", "scale": {"domain": [2, 14], "nice": false}, "axis": {"values": [2,4,6,8,10,12,14], "title": "r [Å]"}},
            "y": {"field": "g", "type": "quantitative", "scale": {"domain": [-10, 55], "nice": false, "zero": false}, "axis": {"values": [-10,0,10,20,30,40,50], "title": "G(r)"}},
            "color": {"field": "s", "type": "nominal", "scale": {"domain": ["DZ15","DZ12","DZ0"], "range": ["#3e4fa0","#30694c","#d0672f"]}, "legend": {"legendX": 347, "legendY": 5}}
          }
        },
        {
          "data": {"name": "bDash"},
          "mark": {"type": "rule", "strokeDash": [4, 3], "strokeWidth": 1.6, "color": "#333333"},
          "encoding": {
            "x": {"field": "r", "type": "quantitative", "axis": {"orient": "top", "values": [2,4,6,8,10,12,14], "labels": false, "title": null}},
            "y": {"field": "lo", "type": "quantitative", "axis": {"orient": "right", "values": [-10,0,10,20,30,40,50], "labels": false, "title": null}},
            "y2": {"field": "top"}
          }
        },
        {
          "data": {"name": "bSolid"},
          "mark": {"type": "rule", "strokeWidth": 1.2, "color": "#333333"},
          "encoding": {
            "x": {"field": "r", "type": "quantitative", "axis": null},
            "y": {"field": "lo", "type": "quantitative", "axis": null},
            "y2": {"field": "top"}
          }
        },
        {
          "data": {"name": "bText"},
          "mark": {"type": "text", "fontSize": 17, "color": "#1a1a1a", "font": "Liberation Sans"},
          "encoding": {
            "x": {"field": "r", "type": "quantitative", "axis": null},
            "y": {"field": "g", "type": "quantitative", "axis": null},
            "text": {"field": "t"}
          }
        },
        {
          "data": {"name": "bLabel"},
          "mark": {"type": "text", "fontSize": 22, "color": "#1a1a1a", "font": "Liberation Sans"},
          "encoding": {
            "x": {"field": "r", "type": "quantitative", "axis": null},
            "y": {"field": "g", "type": "quantitative", "axis": null},
            "text": {"field": "t"}
          }
        }
      ]
    }
  ]
}
